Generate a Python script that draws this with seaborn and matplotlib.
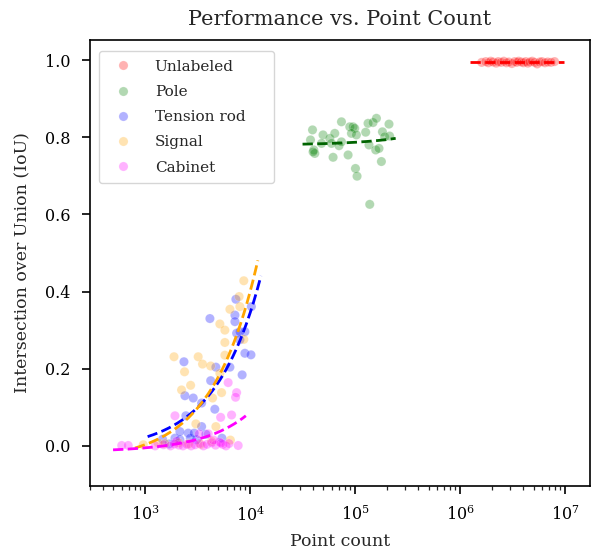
import numpy as np
import pandas as pd
import matplotlib
matplotlib.use("Agg")
import matplotlib.pyplot as plt
import seaborn as sns

# ---------------- data ----------------
classes = ["Unlabeled", "Pole", "Tension rod", "Signal", "Cabinet"]
colors = ["red", "green", "blue", "orange", "magenta"]
line_colors = ["red", "darkgreen", "blue", "orange", "magenta"]

unlabeled_x = [1.6e6, 1.75e6, 1.85e6, 1.95e6, 2.05e6, 2.2e6, 2.3e6, 2.45e6, 2.6e6, 2.75e6,
               2.9e6, 3.1e6, 3.3e6, 3.45e6, 3.6e6, 3.8e6, 4.0e6, 4.2e6, 4.4e6, 4.6e6,
               4.85e6, 5.1e6, 5.4e6, 5.7e6, 6.0e6, 6.4e6, 6.8e6, 7.3e6, 7.9e6]
unlabeled_y = [0.994, 0.996, 0.993, 0.997, 0.995, 0.992, 0.996, 0.994, 0.997, 0.993,
               0.995, 0.991, 0.996, 0.994, 0.997, 0.995, 0.993, 0.996, 0.992, 0.995,
               0.997, 0.994, 0.990, 0.995, 0.996, 0.993, 0.995, 0.994, 0.996]

pole_x = [39.3e3, 37.6e3, 40.4e3, 41.3e3, 49.5e3, 47.9e3, 57.4e3, 59.6e3, 64.0e3, 61.7e3,
          74.1e3, 70.3e3, 74.1e3, 85.7e3, 88.9e3, 95.5e3, 99.1e3, 92.2e3, 102.8e3, 100.7e3,
          104.3e3, 126e3, 132.7e3, 148e3, 159.5e3, 135.5e3, 157e3, 168.7e3, 181.9e3, 191e3,
          177.8e3, 210e3, 213e3, 137.7e3, 39.8e3]
pole_y = [0.819, 0.793, 0.767, 0.758, 0.806, 0.784, 0.797, 0.784, 0.810, 0.748,
          0.840, 0.778, 0.788, 0.754, 0.827, 0.827, 0.823, 0.810, 0.806, 0.719,
          0.699, 0.813, 0.836, 0.838, 0.849, 0.780, 0.767, 0.771, 0.814, 0.801,
          0.737, 0.834, 0.803, 0.626, 0.762]

tension_x = [1470, 1930, 2150, 2350, 2400, 2450, 2580, 2880, 3100, 3460,
             2150, 4150, 4220, 4620, 4730, 6430, 7180, 7180, 7330, 7450,
             8000, 8000, 8410, 8930, 8930, 10200, 10300, 3460, 1700, 2700,
             3800, 2940, 5400]
tension_y = [0.017, 0.020, 0.016, 0.218, 0.130, 0.078, 0.033, 0.124, 0.016, 0.111,
             0.037, 0.330, 0.169, 0.095, 0.204, 0.204, 0.339, 0.322, 0.380, 0.292,
             0.296, 0.275, 0.184, 0.296, 0.240, 0.236, 0.361, 0.050, 0.005, 0.020,
             0.030, 0.033, 0.020]

signal_x = [964, 1330, 1550, 1890, 2230, 2380, 2720, 3050, 3210, 3530,
            4220, 4400, 4730, 5160, 5160, 5360, 5760, 5760, 5760, 6430,
            7870, 8000, 8720, 8720, 2100, 3400, 4300, 2600, 6500]
signal_y = [0.003, 0.008, 0.006, 0.231, 0.145, 0.192, 0.157, 0.057, 0.231, 0.212,
            0.207, 0.124, 0.050, 0.316, 0.188, 0.138, 0.300, 0.268, 0.235, 0.354,
            0.387, 0.361, 0.428, 0.276, 0.008, 0.004, 0.012, 0.005, 0.015]

cabinet_x = [601, 693, 1930, 3280, 4000, 5250, 6670, 6190, 7450, 7280,
             7710, 1250, 1500, 1750, 1900, 2100, 2300, 2500, 2750, 3000,
             3300, 3600, 3900, 4300, 4700, 5100, 5500, 5900, 6300, 2000,
             4500, 5300]
cabinet_y = [0.001, 0.001, 0.078, 0.031, 0.031, 0.074, 0.080, 0.164, 0.138, 0.126,
             0.001, 0.000, 0.003, 0.000, 0.005, 0.002, 0.000, 0.004, 0.000, 0.003,
             0.006, 0.000, 0.004, 0.008, 0.002, 0.010, 0.004, 0.000, 0.006, 0.012,
             0.015, 0.007]

# linear trend lines y = a + b*x, drawn over [x_start, x_end]
fit_intercept = [0.994, 0.7798, -0.014, -0.041, -0.0154]
fit_slope = [0.0, 7.1e-8, 3.58e-5, 4.40e-5, 1.024e-5]
fit_x_start = [1.24e6, 31.6e3, 1060, 804, 497]
fit_x_end = [9.8e6, 243e3, 12.7e3, 11.86e3, 9120]

all_x = [unlabeled_x, pole_x, tension_x, signal_x, cabinet_x]
all_y = [unlabeled_y, pole_y, tension_y, signal_y, cabinet_y]

frames = []
for name, xs, ys in zip(classes, all_x, all_y):
    frames.append(pd.DataFrame({"Point count": xs, "IoU": ys, "Class": name}))
df = pd.concat(frames, ignore_index=True)

lines = []
for name, a, b, x0, x1 in zip(classes, fit_intercept, fit_slope, fit_x_start, fit_x_end):
    gx = np.geomspace(x0, x1, 200)
    lines.append(pd.DataFrame({"Point count": gx, "IoU": a + b * gx, "Class": name}))
ldf = pd.concat(lines, ignore_index=True)

# ---------------- style ----------------
sns.set_style("ticks")
plt.rcParams["font.family"] = ["DejaVu Serif"]
plt.rcParams["mathtext.fontset"] = "dejavuserif"

fig = plt.figure(figsize=(5.95, 5.53), dpi=100)
ax = fig.add_axes([90 / 595, 1 - 486 / 553, 500 / 595, 446 / 553])

sns.scatterplot(data=df, x="Point count", y="IoU", hue="Class", hue_order=classes,
                palette=dict(zip(classes, colors)), alpha=0.3, s=44, ax=ax,
                edgecolor="white", linewidth=0.4)
sns.lineplot(data=ldf, x="Point count", y="IoU", hue="Class", hue_order=classes,
             palette=dict(zip(classes, line_colors)), linestyle="--", linewidth=2,
             ax=ax, legend=False, estimator=None, sort=False)

ax.set_xscale("log")
ax.set_xlim(10 ** 2.477, 10 ** 7.235)
ax.set_ylim(-0.104, 1.052)
ax.set_yticks([0.0, 0.2, 0.4, 0.6, 0.8, 1.0])
ax.set_yticklabels(["0.0", "0.2", "0.4", "0.6", "0.8", "1.0"])
for s in ax.spines.values():
    s.set_visible(True)
    s.set_linewidth(1.2)
    s.set_color("black")
ax.tick_params(axis="both", which="major", labelsize=11.5, length=6, width=1.2,
               colors="black", pad=8)
ax.tick_params(axis="x", which="minor", length=3, width=0.9)

ax.set_title("Performance vs. Point Count", fontsize=15, pad=11)
ax.set_xlabel("Point count", fontsize=12.5, labelpad=6)
ax.set_ylabel("Intersection over Union (IoU)", fontsize=12.5, labelpad=10)

leg = ax.legend(loc="upper left", bbox_to_anchor=(0.018, 0.975, 0.35, 0.0),
                mode="expand", borderaxespad=0.0, fontsize=11, frameon=True,
                title=None, borderpad=0.55, labelspacing=0.74, handletextpad=1.1)
leg.get_frame().set_edgecolor("#cccccc")
for h in leg.legend_handles:
    h.set_alpha(0.3)

fig.savefig("out.png", dpi=100)
